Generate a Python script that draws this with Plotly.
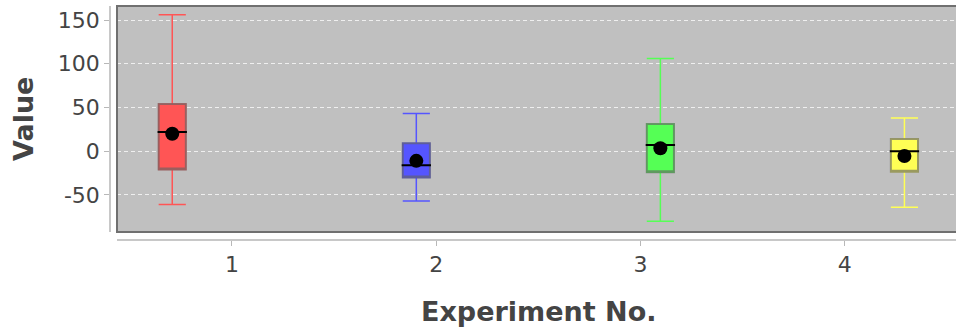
import plotly.graph_objects as go

# ---- data ----
categories = [1, 2, 3, 4]
series_names = ["Series 1", "Series 2", "Series 3", "Series 4"]
series_colors = ["#FF5555", "#5555FF", "#55FF55", "#FFFF55"]
lower_whisker = [-61, -57, -80, -64]
q1_values = [-21, -30, -24, -23.5]
median_values = [22, -16, 7, 0]
mean_values = [20, -11, 3.5, -5.5]
q3_values = [54, 9, 31, 14]
upper_whisker = [156, 43, 106, 38]
y_ticks = [-50, 0, 50, 100, 150]

W, H = 956, 333
FONT = "DejaVu Sans"
n = len(series_names)
slot = 0.195          # dodge spacing between series within a category
box_w = 0.133         # box width in category units

fig = go.Figure()
for i in range(n):
    pos = categories[i] + (i - (n - 1) / 2) * slot
    # whiskers + filled box
    fig.add_trace(go.Box(
        x=[pos], q1=[q1_values[i]], median=[median_values[i]], q3=[q3_values[i]],
        lowerfence=[lower_whisker[i]], upperfence=[upper_whisker[i]],
        width=box_w, whiskerwidth=1, boxpoints=False,
        fillcolor=series_colors[i], line=dict(color=series_colors[i], width=1.5),
        name=series_names[i], hoverinfo="skip"))
    # grey outline of the box
    fig.add_trace(go.Box(
        x=[pos], q1=[q1_values[i]], median=[q1_values[i]], q3=[q3_values[i]],
        lowerfence=[q1_values[i]], upperfence=[q3_values[i]],
        width=box_w, whiskerwidth=0, boxpoints=False,
        fillcolor="rgba(0,0,0,0)", line=dict(color="rgba(100,100,100,0.65)", width=2),
        name=series_names[i], hoverinfo="skip"))
    # black median line
    fig.add_trace(go.Box(
        x=[pos], q1=[median_values[i]], median=[median_values[i]], q3=[median_values[i]],
        lowerfence=[median_values[i]], upperfence=[median_values[i]],
        width=box_w * 1.08, whiskerwidth=0, boxpoints=False,
        fillcolor="rgba(0,0,0,0)", line=dict(color="black", width=2),
        name=series_names[i], hoverinfo="skip"))
    # mean dot
    fig.add_trace(go.Scatter(
        x=[pos], y=[mean_values[i]], mode="markers",
        marker=dict(color="black", size=14, line=dict(width=0)),
        name=series_names[i], hoverinfo="skip"))

x_left_px, x_right_px = 117, 956
y_top_px, y_bot_px = 6, 232

fig.update_layout(
    width=W, height=H,
    margin=dict(l=0, r=0, t=0, b=0),
    paper_bgcolor="white", plot_bgcolor="#C0C0C0",
    showlegend=False, boxmode="overlay",
    font=dict(family=FONT, color="#444444"),
    xaxis=dict(
        domain=[x_left_px / W, x_right_px / W],
        anchor="free", position=(H - 240) / H,
        range=[0.437, 4.545],
        tickmode="array", tickvals=categories, ticktext=[str(c) for c in categories],
        showgrid=False, zeroline=False,
        showline=True, linecolor="#C8C8C8", linewidth=1.5,
        ticks="outside", ticklen=5, tickcolor="#B8B8B8", tickwidth=1,
        tickfont=dict(family=FONT, size=22, color="#444444"),
    ),
    yaxis=dict(
        domain=[(H - y_bot_px) / H, (H - y_top_px) / H],
        anchor="free", position=110 / W,
        range=[-92.3, 166],
        tickmode="array", tickvals=y_ticks, ticktext=[str(v) for v in y_ticks],
        showgrid=True, gridcolor="rgba(255,255,255,0.75)", gridwidth=1, griddash="4px,3px",
        zeroline=False,
        showline=True, linecolor="#C8C8C8", linewidth=1.5,
        ticks="outside", ticklen=5, tickcolor="#B8B8B8", tickwidth=1,
        tickfont=dict(family=FONT, size=22, color="#444444"),
    ),
    shapes=[dict(type="rect", xref="x domain", yref="y domain",
                 x0=0, x1=1.02, y0=0, y1=1,
                 line=dict(color="#707070", width=2), layer="above")],
    annotations=[
        dict(text="<b>Value</b>", xref="paper", yref="paper",
             x=23 / W, y=(H - 119) / H, xanchor="center", yanchor="middle",
             textangle=-90, showarrow=False,
             font=dict(family=FONT, size=27, color="#444444")),
        dict(text="<b>Experiment No.</b>", xref="paper", yref="paper",
             x=538 / W, y=(H - 311) / H, xanchor="center", yanchor="middle",
             showarrow=False,
             font=dict(family=FONT, size=27, color="#444444")),
    ],
)

fig.write_html("out.html")
